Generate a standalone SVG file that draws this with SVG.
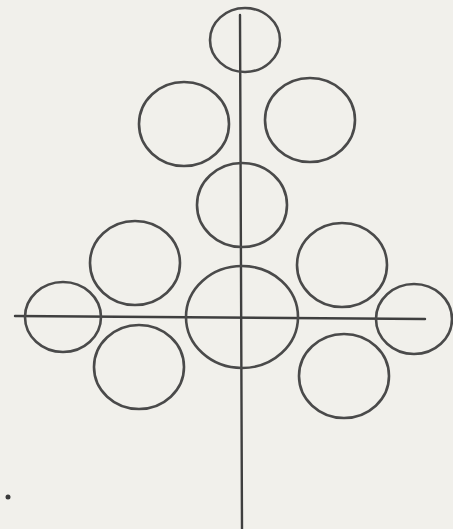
<svg xmlns="http://www.w3.org/2000/svg" width="453" height="529" viewBox="0 0 453 529">
<style>
.c{fill:none;stroke:#4a4a4a;stroke-width:2.6}
.a{fill:none;stroke:#3f3f3f;stroke-width:2.4;stroke-linecap:round}
</style>
<rect width="453" height="529" fill="#f1f0eb"/>
<g id="connectors">
<line class="a" x1="240" y1="15" x2="242" y2="529"/>
<line class="a" x1="15" y1="316" x2="425" y2="319"/>
</g>
<g id="n1"><ellipse class="c" cx="245" cy="40" rx="35" ry="32"/></g>
<g id="n2"><ellipse class="c" cx="184" cy="124" rx="45" ry="42"/></g>
<g id="n3"><ellipse class="c" cx="310" cy="120" rx="45" ry="42"/></g>
<g id="n4"><ellipse class="c" cx="242" cy="205" rx="45" ry="42"/></g>
<g id="n5"><ellipse class="c" cx="135" cy="263" rx="45" ry="42"/></g>
<g id="n6"><ellipse class="c" cx="342" cy="265" rx="45" ry="42"/></g>
<g id="n7"><ellipse class="c" cx="63" cy="317" rx="38" ry="35"/></g>
<g id="n8"><ellipse class="c" cx="242" cy="317" rx="56" ry="51"/></g>
<g id="n9"><ellipse class="c" cx="414" cy="319" rx="38" ry="35"/></g>
<g id="n10"><ellipse class="c" cx="139" cy="367" rx="45" ry="42"/></g>
<g id="n11"><ellipse class="c" cx="344" cy="376" rx="45" ry="42"/></g>
<circle cx="8" cy="497" r="2.5" fill="#3a3a3a"/>
</svg>
